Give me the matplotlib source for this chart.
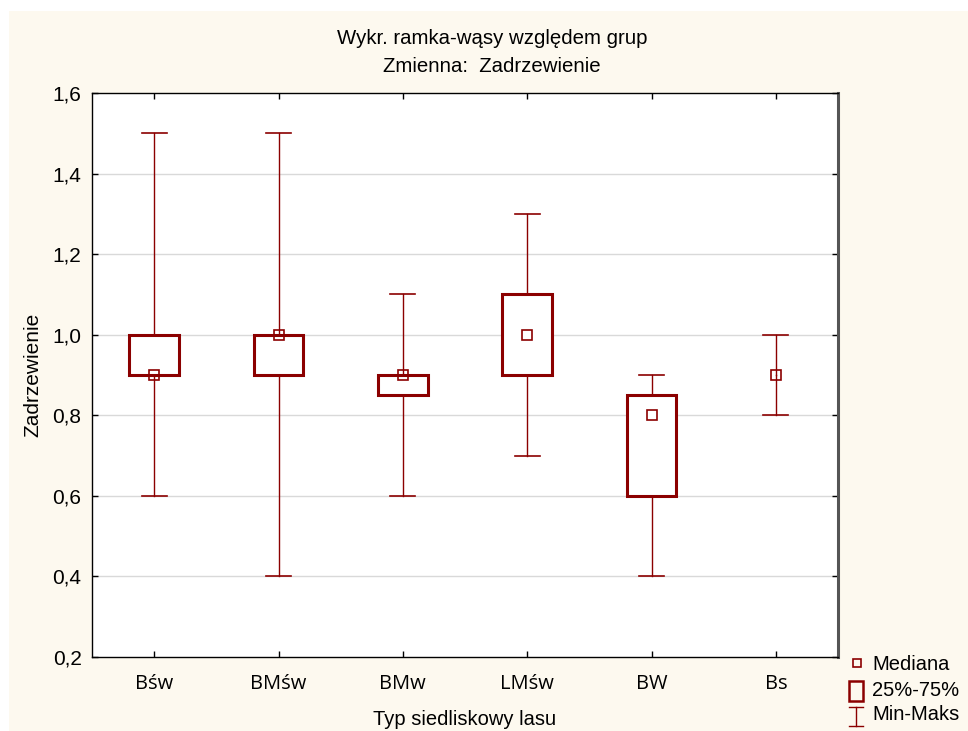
import matplotlib
matplotlib.use("Agg")
import matplotlib.pyplot as plt
from matplotlib.patches import Rectangle
from matplotlib.lines import Line2D

categories = ["Bśw", "BMśw", "BMw", "LMśw", "BW", "Bs"]
mins = [0.6, 0.4, 0.6, 0.7, 0.4, 0.8]
q1 = [0.9, 0.9, 0.85, 0.9, 0.6, 0.9]
medians = [0.9, 1.0, 0.9, 1.0, 0.8, 0.9]
q3 = [1.0, 1.0, 0.9, 1.1, 0.85, 0.9]
maxs = [1.5, 1.5, 1.1, 1.3, 0.9, 1.0]
yticks = [0.2, 0.4, 0.6, 0.8, 1.0, 1.2, 1.4, 1.6]

RED = "#8B0000"
CREAM = "#FDF9EF"
W, H = 968, 731

fig = plt.figure(figsize=(W / 100, H / 100), dpi=100, facecolor="white")
fig.add_artist(Rectangle((9 / W, 0), 1 - 9 / W, 1 - 11 / H, transform=fig.transFigure,
                         facecolor=CREAM, edgecolor="none", zorder=-10))

ax = fig.add_axes([92 / W, 1 - 657 / H, (838 - 92) / W, (657 - 93) / H])
ax.set_facecolor("white")
ax.set_xlim(-0.5, len(categories) - 0.5)
ax.set_ylim(0.2, 1.6)

for y in yticks[1:-1]:
    ax.axhline(y, color="#D9D9D9", lw=1.0, zorder=0)

bw = 0.4
cw = 0.2
for i in range(len(categories)):
    # whiskers
    ax.plot([i, i], [q3[i], maxs[i]], color=RED, lw=1.0, zorder=2)
    ax.plot([i, i], [mins[i], q1[i]], color=RED, lw=1.0, zorder=2)
    ax.plot([i - cw / 2, i + cw / 2], [maxs[i], maxs[i]], color=RED, lw=1.2, zorder=2)
    ax.plot([i - cw / 2, i + cw / 2], [mins[i], mins[i]], color=RED, lw=1.2, zorder=2)
    # box
    if q3[i] > q1[i]:
        ax.add_patch(Rectangle((i - bw / 2, q1[i]), bw, q3[i] - q1[i], facecolor="white",
                               edgecolor=RED, lw=2.2, zorder=3))
    # median
    ax.plot([i], [medians[i]], marker="s", ms=6.5, mfc="none", mec=RED, mew=1.2, zorder=4)

ax.set_xticks(range(len(categories)))
ax.set_xticklabels(categories, fontfamily=["Open Sans", "DejaVu Sans"], fontsize=14.5)
ax.set_yticks(yticks)
ax.set_yticklabels([f"{v:.1f}".replace(".", ",") for v in yticks],
                   fontfamily=["Liberation Sans", "DejaVu Sans"], fontsize=15)
ax.tick_params(axis="x", direction="in", length=4, top=True, bottom=True, pad=12.5, width=1)
ax.tick_params(axis="y", direction="in", length=4, left=True, right=True, pad=7.5, width=1)

for s in ["left", "top", "bottom"]:
    ax.spines[s].set_color("black")
    ax.spines[s].set_linewidth(1.0)
ax.spines["right"].set_color("#555555")
ax.spines["right"].set_linewidth(2.2)

ax.set_ylabel("Zadrzewienie", fontfamily=["Liberation Sans", "DejaVu Sans"], fontsize=15, labelpad=7)
ax.set_xlabel("Typ siedliskowy lasu", fontfamily=["Liberation Sans", "DejaVu Sans"], fontsize=14.5, labelpad=11)

tfam = ["Liberation Sans", "DejaVu Sans"]
fig.text(492 / W, 1 - 38 / H, "Wykr. ramka-wąsy względem grup", ha="center", va="center",
         fontfamily=tfam, fontsize=14.7)
fig.text(492 / W, 1 - 67 / H, "Zmienna:  Zadrzewienie", ha="center", va="center",
         fontfamily=tfam, fontsize=14.7)

# legend (drawn manually)
tr = fig.transFigure
def fx(px):
    return px / W
def fy(py):
    return 1 - py / H

fig.add_artist(Line2D([fx(857)], [fy(663)], marker="s", ms=6, mfc="none", mec=RED, mew=1.2, transform=tr))
fig.add_artist(Rectangle((fx(849), fy(701)), 14 / W, 20 / H, facecolor="none", edgecolor=RED, lw=1.8, transform=tr))
fig.add_artist(Line2D([fx(856), fx(856)], [fy(707), fy(726)], color=RED, lw=1.0, transform=tr))
fig.add_artist(Line2D([fx(849), fx(863)], [fy(707), fy(707)], color=RED, lw=1.0, transform=tr))
fig.add_artist(Line2D([fx(849), fx(863)], [fy(726), fy(726)], color=RED, lw=1.0, transform=tr))
lfam = ["Liberation Sans", "DejaVu Sans"]
for text, py in [("Mediana", 664), ("25%-75%", 690), ("Min-Maks", 715)]:
    fig.text(fx(872), fy(py), text, ha="left", va="center", fontfamily=lfam, fontsize=14.5)

fig.savefig("out.png", dpi=100, facecolor=fig.get_facecolor())
